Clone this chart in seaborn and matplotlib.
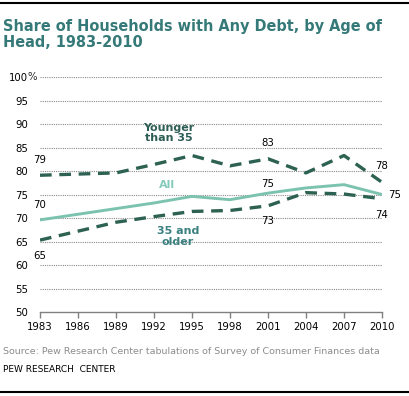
import pandas as pd
import matplotlib.pyplot as plt
import seaborn as sns
from matplotlib.lines import Line2D

sns.set_style('white')
plt.rcParams['font.family'] = ['DejaVu Sans']

# Survey years and shares (%)
years = [1983, 1989, 1992, 1995, 1998, 2001, 2004, 2007, 2010]
younger = [79.1, 79.6, 81.4, 83.3, 81.1, 82.6, 79.6, 83.3, 77.6]
all_households = [69.6, 72.0, 73.2, 74.6, 73.9, 75.3, 76.4, 77.1, 75.0]
older = [65.3, 69.1, 70.3, 71.4, 71.6, 72.6, 75.4, 75.1, 74.1]
x_ticks = list(range(1983, 2011, 3))
y_ticks = list(range(50, 101, 5))

dash_color = '#2D6152'
all_color = '#7CC3AF'

df = pd.DataFrame({
    'Year': years * 3,
    'Share': younger + all_households + older,
    'Group': ['Younger than 35'] * len(years) + ['All'] * len(years) + ['35 and older'] * len(years),
})

fig = plt.figure(figsize=(4.09, 3.96), dpi=100)
ax = fig.add_axes([0.0978, 0.2121, 0.8362, 0.5934])

# gridlines
for yv in y_ticks[1:]:
    ax.axhline(yv, color='#8a8a8a', lw=0.8, linestyle=(0, (1, 1)), zorder=1)

sns.lineplot(data=df[df['Group'] != 'All'], x='Year', y='Share', hue='Group',
             palette={'Younger than 35': dash_color, '35 and older': dash_color},
             style='Group', dashes={'Younger than 35': (3.5, 2.3), '35 and older': (3.5, 2.3)},
             linewidth=2.4, legend=False, ax=ax, zorder=3)
sns.lineplot(data=df[df['Group'] == 'All'], x='Year', y='Share', color=all_color,
             linewidth=2.1, legend=False, ax=ax, zorder=4)

ax.set_xlim(1983, 2010)
ax.set_ylim(50, 100)
ax.set_xticks(x_ticks)
ax.set_xticklabels([str(t) for t in x_ticks])
ax.set_yticks(y_ticks)
ax.set_yticklabels([str(t) for t in y_ticks])
ax.set_xlabel('')
ax.set_ylabel('')
for s in ['top', 'right', 'left']:
    ax.spines[s].set_visible(False)
ax.spines['bottom'].set_color('#808080')
ax.spines['bottom'].set_linewidth(1.0)
ax.tick_params(axis='x', bottom=True, length=4, width=1.0, color='#808080', pad=3, labelsize=7.3, labelcolor='black')
ax.tick_params(axis='y', left=False, length=0, pad=8.6, labelsize=7.3, labelcolor='black')
ax.annotate('%', xy=(0, 100), xycoords=('axes fraction', 'data'), xytext=(-9.3, 0),
            textcoords='offset points', ha='left', va='center', fontsize=7.3)

# value labels at first, 2001 and last points
lab = dict(fontsize=7.3, color='black', ha='center', va='center')
ax.text(1983, 82.3, f"{round(younger[0])}", **lab)
ax.text(1983, 72.8, f"{round(all_households[0])}", **lab)
ax.text(1983, 61.9, f"{round(older[0])}", **lab)
ax.text(2001, 86.0, f"{round(younger[5])}", **lab)
ax.text(2001, 77.2, f"{round(all_households[5])}", **lab)
ax.text(2001, 69.4, f"{round(older[5])}", **lab)
ax.text(2010, 81.1, f"{round(younger[-1])}", **lab)
ax.text(2010.5, 74.9, f"{round(all_households[-1])}", fontsize=7.3, color='black', ha='left', va='center')
ax.text(2010, 70.6, f"{round(older[-1])}", **lab)

# series labels
ax.text(1993.2, 88.1, 'Younger\nthan 35', fontsize=8, fontweight='bold', color='#2D5E56',
        ha='center', va='center', linespacing=1.05)
ax.text(1993.0, 77.0, 'All', fontsize=8, fontweight='bold', color='#86CABB', ha='center', va='center')
ax.text(1993.9, 66.1, '35 and\nolder', fontsize=8, fontweight='bold', color='#3B8080',
        ha='center', va='center', linespacing=1.05)

fig.text(0.008, 0.952, 'Share of Households with Any Debt, by Age of\nHead, 1983-2010',
         fontsize=10.45, fontweight='bold', color='#357A78', ha='left', va='top', linespacing=1.1)
fig.text(0.008, 0.112, 'Source: Pew Research Center tabulations of Survey of Consumer Finances data',
         fontsize=6.8, color='#8c8c8c', ha='left', va='center')
fig.text(0.008, 0.0657, 'PEW RESEARCH  CENTER', fontsize=6.5, color='black', ha='left', va='center')

fig.add_artist(Line2D([0, 1], [0.9917, 0.9917], color='black', lw=1.5))
fig.add_artist(Line2D([0, 1], [0.0109, 0.0109], color='black', lw=1.5))

fig.savefig('out.png', dpi=100)
